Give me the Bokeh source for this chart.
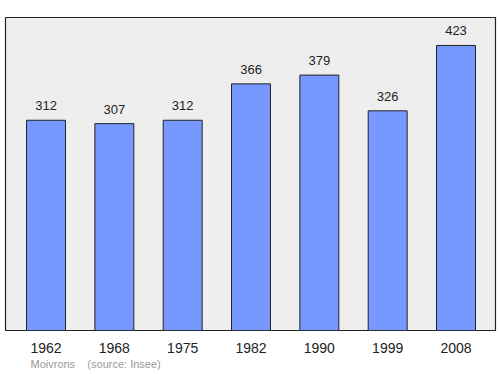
from bokeh.plotting import figure
from bokeh.models import Range1d, FixedTicker, Title, ColumnDataSource
from bokeh.core.properties import value
from bokeh.embed import file_html
from bokeh.resources import INLINE

years = ["1962", "1968", "1975", "1982", "1990", "1999", "2008"]
population = [312, 307, 312, 366, 379, 326, 423]
place = "Moivrons"
source_text = "(source: Insee)"

xs = list(range(len(years)))
src = ColumnDataSource(dict(x=xs, top=population, lbl=[str(v) for v in population]))

p = figure(width=500, height=374, output_backend="svg", toolbar_location=None,
           x_range=Range1d(-0.593, 6.578), y_range=Range1d(0, 464.5),
           min_border_left=5, min_border_right=5, min_border_top=17, min_border_bottom=44)
p.background_fill_color = "#eeeeee"
p.border_fill_color = "white"
p.outline_line_color = "#222222"
p.outline_line_width = 1.2
p.xgrid.visible = False
p.ygrid.visible = False
p.yaxis.visible = False

p.vbar(x="x", top="top", width=0.57, bottom=0, source=src,
       fill_color="#7799ff", line_color="#222222", line_width=1)
p.text(x="x", y="top", text="lbl", source=src, text_align="center",
       text_baseline="bottom", y_offset=-10, text_font_size="13px",
       text_color="#222222", text_font=value("Liberation Sans"))

ax = p.xaxis[0]
ax.ticker = FixedTicker(ticks=xs)
ax.major_label_overrides = {i: y for i, y in enumerate(years)}
ax.axis_line_color = None
ax.major_tick_line_color = None
ax.minor_tick_line_color = None
ax.major_tick_in = 0
ax.major_tick_out = 0
ax.major_label_text_font_size = "14px"
ax.major_label_text_font = "Liberation Sans"
ax.major_label_text_color = "#222222"
ax.major_label_standoff = 12

credit = place + "\u00a0\u00a0\u00a0\u00a0" + source_text
p.add_layout(Title(text=credit, align="left", offset=25, text_font_size="11px",
                   text_color="#999999", text_font="Liberation Sans",
                   text_font_style="normal", standoff=1), "below")

open("out.html", "w").write(file_html(p, INLINE))
